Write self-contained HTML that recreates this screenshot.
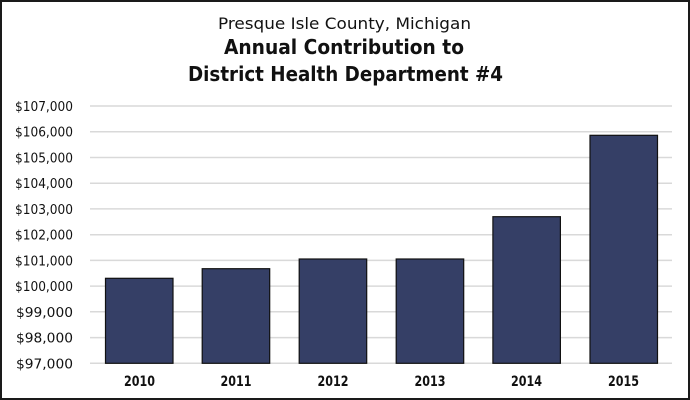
<!DOCTYPE html>
<html><head><meta charset="utf-8"><style>
html,body{margin:0;padding:0;background:#fff;}
svg{display:block;}
</style></head><body>
<svg width="690" height="400" viewBox="0 0 690 400" xmlns="http://www.w3.org/2000/svg" font-family="'DejaVu Sans','Liberation Sans',sans-serif" fill="#111">
<rect x="1" y="1" width="688" height="398" fill="#fff" stroke="#1a1a1a" stroke-width="2"/>
<g font-size="16"><text x="218" y="29" textLength="253" lengthAdjust="spacingAndGlyphs">Presque Isle County, Michigan</text></g>
<g font-size="20" font-weight="bold">
<text x="224" y="54" textLength="240" lengthAdjust="spacingAndGlyphs">Annual Contribution to</text>
<text x="188" y="81" textLength="315" lengthAdjust="spacingAndGlyphs">District Health Department #4</text>
</g>
<g stroke="#d9d9d9" stroke-width="1.5">
<line x1="90" x2="672" y1="106" y2="106"/>
<line x1="90" x2="672" y1="131.7" y2="131.7"/>
<line x1="90" x2="672" y1="157.5" y2="157.5"/>
<line x1="90" x2="672" y1="183.2" y2="183.2"/>
<line x1="90" x2="672" y1="208.9" y2="208.9"/>
<line x1="90" x2="672" y1="234.7" y2="234.7"/>
<line x1="90" x2="672" y1="260.4" y2="260.4"/>
<line x1="90" x2="672" y1="286.1" y2="286.1"/>
<line x1="90" x2="672" y1="311.8" y2="311.8"/>
<line x1="90" x2="672" y1="337.6" y2="337.6"/>
<line x1="90" x2="672" y1="363.3" y2="363.3"/>
</g>
<g font-size="13" text-anchor="end">
<text x="73" y="111" textLength="58" lengthAdjust="spacingAndGlyphs">$107,000</text>
<text x="73" y="136.7" textLength="58" lengthAdjust="spacingAndGlyphs">$106,000</text>
<text x="73" y="162.5" textLength="58" lengthAdjust="spacingAndGlyphs">$105,000</text>
<text x="73" y="188.2" textLength="58" lengthAdjust="spacingAndGlyphs">$104,000</text>
<text x="73" y="213.9" textLength="58" lengthAdjust="spacingAndGlyphs">$103,000</text>
<text x="73" y="239.7" textLength="58" lengthAdjust="spacingAndGlyphs">$102,000</text>
<text x="73" y="265.4" textLength="58" lengthAdjust="spacingAndGlyphs">$101,000</text>
<text x="73" y="291.1" textLength="58" lengthAdjust="spacingAndGlyphs">$100,000</text>
<text x="73" y="316.8" textLength="57" lengthAdjust="spacingAndGlyphs">$99,000</text>
<text x="73" y="342.6" textLength="57" lengthAdjust="spacingAndGlyphs">$98,000</text>
<text x="73" y="368.3" textLength="57" lengthAdjust="spacingAndGlyphs">$97,000</text>
</g>
<g fill="#353f66" stroke="#111" stroke-width="1.2">
<rect x="105.5" y="278.3" width="67.5" height="85"/>
<rect x="202.2" y="268.7" width="67.5" height="94.6"/>
<rect x="299.2" y="259" width="67.5" height="104.3"/>
<rect x="396.2" y="259" width="67.5" height="104.3"/>
<rect x="492.9" y="216.7" width="67.5" height="146.6"/>
<rect x="590" y="135.3" width="67.5" height="228"/>
</g>
<g font-size="14" font-weight="bold" text-anchor="middle">
<text x="139.5" y="386" textLength="31" lengthAdjust="spacingAndGlyphs">2010</text>
<text x="236" y="386" textLength="31" lengthAdjust="spacingAndGlyphs">2011</text>
<text x="333" y="386" textLength="31" lengthAdjust="spacingAndGlyphs">2012</text>
<text x="430" y="386" textLength="31" lengthAdjust="spacingAndGlyphs">2013</text>
<text x="526.5" y="386" textLength="31" lengthAdjust="spacingAndGlyphs">2014</text>
<text x="623.5" y="386" textLength="31" lengthAdjust="spacingAndGlyphs">2015</text>
</g>
</svg>
</body></html>
